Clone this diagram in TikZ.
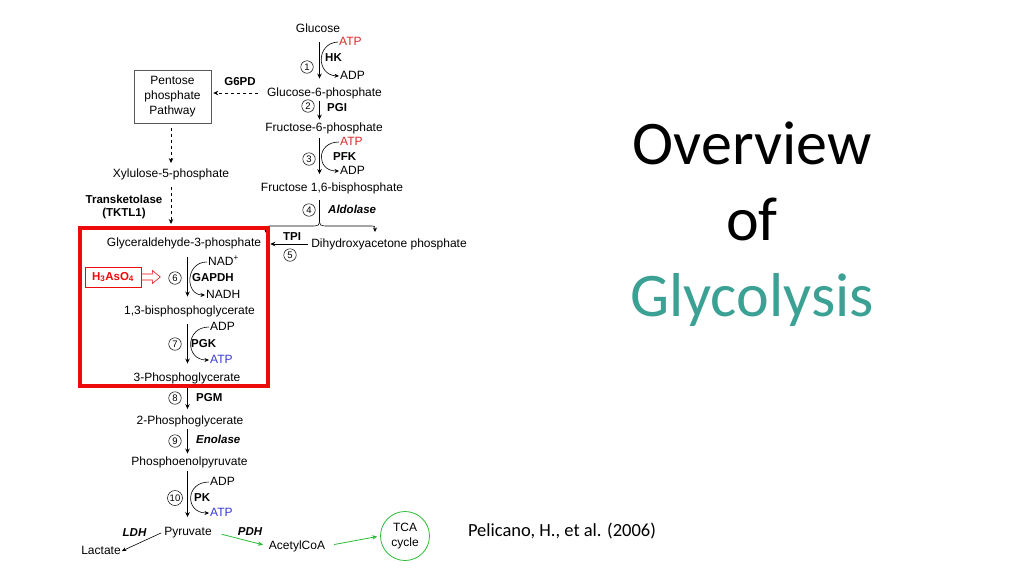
\documentclass[tikz,border=0pt]{standalone}
\usepackage{fontspec}
\setmainfont{Liberation Sans}
\newfontfamily\titlefont{Carlito}
\usetikzlibrary{arrows.meta}
\usetikzlibrary{positioning}
\definecolor{atpred}{rgb}{0.86,0.16,0.16}
\definecolor{atpblue}{rgb}{0.22,0.22,0.86}
\definecolor{boxred}{rgb}{0.93,0.04,0.04}
\definecolor{pdhgreen}{rgb}{0.16,0.74,0.22}
\definecolor{titleteal}{rgb}{0.23,0.63,0.58}

\begin{document}
\begin{tikzpicture}[x=1pt,y=-1pt,
	met/.style={inner sep=1pt,text height=9pt,text depth=2.5pt,font=\fontsize{12}{13}\selectfont},
	cofac/.style={met,anchor=west},
	enz/.style={met,anchor=west,font=\fontsize{11.5}{13}\selectfont\bfseries},
	enzit/.style={enz,font=\fontsize{11.5}{13}\selectfont\bfseries\itshape},
	num/.style={circle,draw,line width=0.5pt,inner sep=0pt,minimum size=12.5pt,font=\fontsize{9.5}{10}\selectfont},
	rxn/.style={line width=0.9pt,shorten <=1.5pt,shorten >=1.5pt,-{Stealth[length=5pt,width=4.5pt]}},
	rxnlong/.style={rxn,shorten <=6.5pt,shorten >=7.5pt},
	side/.style={line width=0.6pt,-{Stealth[length=4.5pt,width=4pt]}},
	pathdash/.style={line width=0.7pt,dashed,-{Stealth[length=5pt,width=4.5pt]}},
	flux/.style={pdhgreen,line width=0.8pt,-{Stealth[length=5pt,width=4.5pt]}}]

\useasboundingbox[fill=white] (0,0) rectangle (1024,576);

% axes of the two columns
\coordinate (ax1) at (319.5,0);
\coordinate (ax2) at (187.5,0);

% upper part
\node[met] (glc) at (318,29) {Glucose};
\node[cofac,text=atpred] (atp1) at (338,42) {ATP};
\node[enz] (hk) at (324,58) {HK};
\node[num] (n1) at (307,67) {1};
\node[cofac] (adp1) at (339,76) {ADP};
\node[met] (g6p) at (324.5,93) {Glucose-6-phosphate};
\draw[rxnlong] (glc.south -| ax1) -- (g6p.north -| ax1);
\draw[side] (atp1.west) .. controls (316,43) and (316,75) .. (adp1.west);

\node[num] (n2) at (308,106) {2};
\node[enz] (pgi) at (326,108) {PGI};
\node[met] (f6p) at (324,128) {Fructose-6-phosphate};
\draw[rxn] (g6p.south -| ax1) -- (f6p.north -| ax1);

\node[cofac,text=atpred] (atp2) at (339,142) {ATP};
\node[enz] (pfk) at (332,157) {PFK};
\node[num] (n3) at (309,159) {3};
\node[cofac] (adp2) at (339,171) {ADP};
\node[met] (f16bp) at (332,188) {Fructose 1,6-bisphosphate};
\draw[rxn,shorten <=3pt,shorten >=7pt] (f6p.south -| ax1) -- (f16bp.north -| ax1);
\draw[side] (atp2.west) .. controls (316,142) and (316,171) .. (adp2.west);

\node[num] (n4) at (309,210) {4};
\node[enzit] (aldo) at (327,210) {Aldolase};
\coordinate (fork) at (319.5,218);
\coordinate (tipL) at (266,233);
\coordinate (tipR) at (375,232);
\draw[line width=0.8pt,shorten <=5pt] (f16bp.south -| ax1) -- (fork);
\draw[side] (fork) .. controls (319.5,226) .. (310,226) -- (272,226) .. controls (266,226) .. (tipL);
\draw[side] (fork) .. controls (319.5,226) .. (329,226) -- (369,226) .. controls (375,226) .. (tipR);

% pentose phosphate branch
\node[draw=black!65,line width=0.6pt,align=center,minimum width=77pt,minimum height=53pt,
	font=\fontsize{12}{15}\selectfont] (ppp) at (172.5,96.5) {Pentose\\phosphate\\Pathway};
\node[enz,anchor=center] (g6pd) at (240,82) {G6PD};
\draw[pathdash,shorten <=8pt,shorten >=2pt] (g6p.west) -- (ppp.east |- g6p.west);
\node[met] (xyl) at (171,174) {Xylulose-5-phosphate};
\draw[pathdash,shorten <=5pt,shorten >=4pt] (ppp.south -| xyl) -- (xyl.north);
\node[align=center,font=\fontsize{11.5}{13.5}\selectfont\bfseries] (tktl) at (124,207) {Transketolase\\(TKTL1)};

% red frame and triose steps
\node[draw=boxred,line width=4pt,minimum width=188pt,minimum height=158pt,inner sep=0pt] (redbox) at (174,307) {};
\draw[pathdash,shorten <=6pt,shorten >=2pt] (xyl.south) -- (redbox.north -| xyl);

\node[met] (gap) at (184,243.5) {Glyceraldehyde-3-phosphate};
\node[met] (dhap) at (389,244) {Dihydroxyacetone phosphate};
\node[enz,anchor=center] (tpi) at (292,237) {TPI};
\node[num] (n5) at (290,255) {5};
\draw[rxn,shorten <=2pt,shorten >=8pt] (dhap.west) -- (gap.east |- dhap.west);

\node[cofac] (nad) at (207,262) {NAD\textsuperscript{+}};
\node[enz] (gapdh) at (191,278) {GAPDH};
\node[num] (n6) at (175,278) {6};
\node[cofac] (nadh) at (205,295) {NADH};
\node[met] (bpg) at (189.5,311) {1,3-bisphosphoglycerate};
\draw[rxnlong] (gap.south -| ax2) -- (bpg.north -| ax2);
\draw[side] (nad.west) .. controls (185,262) and (185,295) .. (nadh.west);

\node[draw=boxred,line width=0.6pt,text=boxred,font=\fontsize{11.5}{13}\selectfont\bfseries,
	minimum width=56pt,minimum height=20pt,inner sep=1pt] (arsen) at (113,277) {H\textsubscript{3}AsO\textsubscript{4}};
\draw[boxred,line width=0.6pt] (arsen.east) ++(0,-3) -- ++(11,0) -- ++(0,-3.5) -- ++(8,6.5)
	-- ++(-8,6.5) -- ++(0,-3.5) -- ++(-11,0);

\node[cofac] (adp3) at (209,327) {ADP};
\node[enz] (pgk) at (190,344) {PGK};
\node[num] (n7) at (175,344) {7};
\node[cofac,text=atpblue] (atp3) at (209,360) {ATP};
\node[met] (pg3) at (187,378) {3-Phosphoglycerate};
\draw[rxnlong] (bpg.south -| ax2) -- (pg3.north -| ax2);
\draw[side] (adp3.west) .. controls (185,327) and (185,360) .. (atp3.west);

% lower part
\node[num] (n8) at (175,398) {8};
\node[enz] (pgm) at (195,398) {PGM};
\node[met] (pg2) at (190,421) {2-Phosphoglycerate};
\draw[rxn,shorten <=3pt,shorten >=5pt] (pg3.south -| ax2) -- (pg2.north -| ax2);

\node[num] (n9) at (175,441) {9};
\node[enzit] (eno) at (195,440) {Enolase};
\node[met] (pep) at (189.5,462) {Phosphoenolpyruvate};
\draw[rxn] (pg2.south -| ax2) -- (pep.north -| ax2);

\node[cofac] (adp4) at (209,482) {ADP};
\node[enz] (pk) at (193,498) {PK};
\node[num,minimum size=15pt] (n10) at (175,498) {10};
\node[cofac,text=atpblue] (atp4) at (209,513) {ATP};
\node[met] (pyr) at (188,532) {Pyruvate};
\draw[rxnlong,shorten <=2pt,shorten >=8pt] (pep.south -| ax2) -- (pyr.north -| ax2);
\draw[side] (adp4.west) .. controls (185,482) and (185,513) .. (atp4.west);

\node[met] (lac) at (101,551) {Lactate};
\node[enzit,anchor=center] (ldh) at (134.5,533) {LDH};
\draw[side,shorten <=2pt] (pyr.west) -- (lac.east);

\node[met] (acoa) at (297,546) {AcetylCoA};
\node[enzit,anchor=center] (pdh) at (250,532) {PDH};
\node[circle,draw=pdhgreen,line width=0.8pt,minimum size=49pt,inner sep=0pt,align=center,
	font=\fontsize{12}{15}\selectfont] (tca) at (405,536) {TCA\\cycle};
\draw[flux,shorten <=9pt,shorten >=5pt] (pyr.east) -- (acoa.west);
\draw[flux,shorten <=8pt,shorten >=3pt] (acoa.east) -- (tca.west);

% title and source
\node[align=center,font=\titlefont\fontsize{62}{76}\selectfont] (title) at (752,224)
	{Overview\\of\\\textcolor{titleteal}{Glycolysis}};
\node[font=\titlefont\fontsize{18.5}{20}\selectfont] (cite) at (562,531) {Pelicano, H., et al. (2006)};
\end{tikzpicture}
\end{document}
